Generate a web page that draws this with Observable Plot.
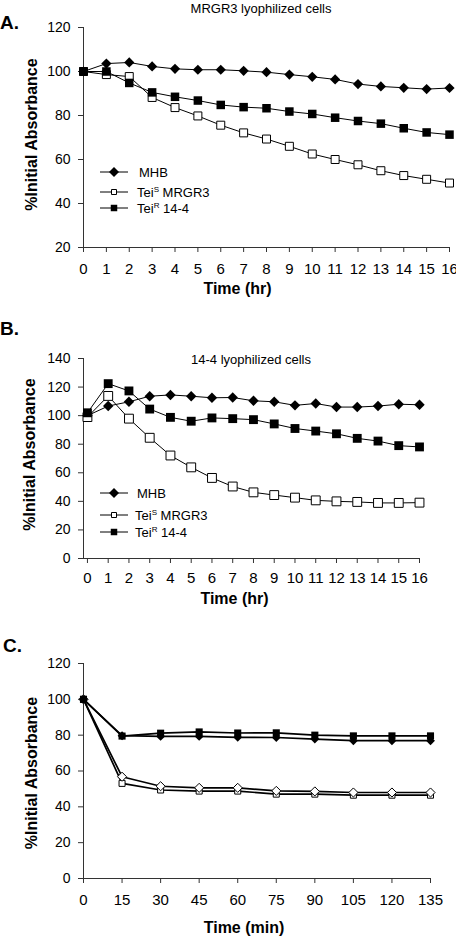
<!DOCTYPE html>
<html><head><meta charset="utf-8">
<script src="https://cdn.jsdelivr.net/npm/d3@7"></script>
<script src="https://cdn.jsdelivr.net/npm/@observablehq/plot@0.6"></script>
<style>
html,body{margin:0;padding:0;background:#fff;}
body{width:456px;height:940px;position:relative;overflow:hidden;font-family:"Liberation Sans",Arial,sans-serif;color:#000;}
.panel{position:absolute;left:0;}
.abs{position:absolute;white-space:nowrap;line-height:1;}
.letter{font-weight:bold;font-size:19px;transform:translateY(-50%);}
.title{font-size:13px;transform:translate(-50%,-50%);}
svg.legend{position:absolute;left:0;overflow:visible;}
</style></head><body>
<script>
// ---------- data ----------
const hours = [0,1,2,3,4,5,6,7,8,9,10,11,12,13,14,15,16];
const minutes = [0,15,30,45,60,75,90,105,120,135];

// Panel A: MRGR3 lyophilized cells
const mhbA  = [100,103.6,104.1,102.3,101.2,100.8,100.8,100.3,99.7,98.6,97.6,96.4,94.3,93.2,92.6,92.0,92.5];
const teiSA = [100,98.6,97.7,88.2,83.6,79.8,75.6,72.1,69.3,66.0,62.5,60.0,57.6,54.9,52.7,51.0,49.3];
const teiRA = [100,100,94.8,90.5,88.5,86.8,84.8,83.8,83.3,81.8,80.7,79.0,77.5,76.3,74.2,72.3,71.3];

// Panel B: 14-4 lyophilized cells
const mhbB  = [100,106.7,109.7,113.6,114.5,113.6,112.5,112.7,110.4,109.7,107.2,108.5,106.0,106.0,106.7,108.0,107.6];
const teiSB = [99,113.8,97.9,84.5,72.1,63.8,56.4,50.4,46.3,44.4,42.6,40.7,40.0,39.6,38.9,38.9,39.1];
const teiRB = [102,122.4,117.3,104.6,98.8,96.1,98.4,97.9,97.2,94.2,91.0,89.2,87.3,84.1,82.2,79.0,78.1];

// Panel C (minutes)
const filledSqC  = [100,79.5,81.1,81.8,81.2,81.3,80.0,79.6,79.6,79.6];
const filledDiaC = [100,79.7,79.3,79.3,78.8,78.7,77.8,76.9,76.9,76.9];
const openDiaC   = [100,56.8,51.5,50.6,50.6,48.9,48.6,48.0,48.0,48.0];
const openSqC    = [100,53.1,49.4,48.8,48.8,47.1,47.1,46.5,46.5,46.5];

const ticksA_y = [20,40,60,80,100,120];
const ticksB_y = [0,20,40,60,80,100,120,140];
const ticksC_y = [0,20,40,60,80,100,120];

const panelLetters = ["A.","B.","C."];
const titleA = "MRGR3 lyophilized cells";
const titleB = "14-4  lyophilized cells";
const xLabelHr = "Time (hr)";
const xLabelMin = "Time (min)";
const yLabel = "%Initial Absorbance";
const legendNames = [["MHB","",""],["Tei","S"," MRGR3"],["Tei","R"," 14-4"]];

// ---------- helpers ----------
const FONT = '"Liberation Sans", Arial, sans-serif';
const AX = "#333";
const zip = (xs, ys) => xs.map((x,i)=>({x, y: ys[i]}));

function panel(cfg){
  const marks = [
    Plot.ruleY([cfg.yDomain[0]], {stroke: AX, strokeWidth: 1}),
    Plot.ruleX([cfg.xDomain[0]], {stroke: AX, strokeWidth: 1}),
    Plot.axisX(cfg.xTicks, {tickSize: 5, tickPadding: cfg.xPad, fontSize: 15, stroke: AX, label: null}),
    Plot.axisY(cfg.yTicks, {tickSize: 5, tickPadding: 8, fontSize: 14, stroke: AX, label: null}),
  ];
  for (const s of cfg.series){
    marks.push(Plot.line(zip(cfg.x, s.y), {x:"x", y:"y", stroke:"#000", strokeWidth: cfg.lw}));
  }
  for (const s of cfg.series){
    marks.push(Plot.dot(zip(cfg.x, s.y), {x:"x", y:"y", symbol: s.symbol, r: s.r,
      fill: s.open ? "white" : "#000", stroke: s.open ? "#000" : "none", strokeWidth: 1}));
  }
  marks.push(Plot.text([cfg.xLabel], {frameAnchor:"bottom", textAnchor:"middle", dx: cfg.xlDx, dy: cfg.xlDy, fontWeight:"bold", fontSize:16}));
  marks.push(Plot.text([yLabel], {frameAnchor:"left", textAnchor:"middle", lineAnchor:"middle", rotate:-90, dx: cfg.ylDx, dy: cfg.ylDy, fontWeight:"bold", fontSize:16}));
  const p = Plot.plot({
    width: 456, height: cfg.height,
    marginTop: cfg.mt, marginBottom: cfg.mb, marginLeft: 83, marginRight: cfg.mr,
    x: {domain: cfg.xDomain},
    y: {domain: cfg.yDomain},
    style: {fontFamily: FONT, fontSize: "14px", color: "#000", background: "transparent", overflow: "visible"},
    marks
  });
  p.classList.add("panel");
  p.style.top = cfg.top + "px";
  document.body.appendChild(p);
}

function text(cls, str, left, top){
  const d = document.createElement("div");
  d.className = "abs " + cls;
  d.textContent = str;
  d.style.left = left + "px"; d.style.top = top + "px";
  document.body.appendChild(d);
}

function legend(rowsY, textX){
  const svg = d3.select("body").append("svg").attr("class","legend")
    .attr("width", 456).attr("height", 940).style("top","0px");
  const syms = [
    {type: d3.symbolDiamond2, size: 64, fill: "#000", stroke: "none"},
    {type: d3.symbolSquare, size: 25, fill: "white", stroke: "#000"},
    {type: d3.symbolSquare, size: 42, fill: "#000", stroke: "none"},
  ];
  legendNames.forEach((nm, i) => {
    const y = rowsY[i];
    svg.append("line").attr("x1", 100).attr("x2", 128).attr("y1", y).attr("y2", y).attr("stroke","#000");
    svg.append("path").attr("d", d3.symbol(syms[i].type, syms[i].size)()).attr("transform", `translate(114,${y})`)
      .attr("fill", syms[i].fill).attr("stroke", syms[i].stroke);
    const t = svg.append("text").attr("x", textX[i]).attr("y", y).attr("dy","0.36em")
      .attr("font-family", FONT).attr("font-size", 13);
    t.append("tspan").text(nm[0]);
    if (nm[1]) {
      t.append("tspan").attr("font-size", 8).attr("dy", "-5").text(nm[1]);
      t.append("tspan").attr("font-size", 13).attr("dy", "5").text(nm[2]);
    }
  });
}

// ---------- Panel A ----------
panel({
  top: 0, height: 300, mt: 27, mb: 53, mr: 7,
  x: hours, xDomain: [0,16], yDomain: [20,120], xTicks: hours, yTicks: ticksA_y, xPad: 11, lw: 1,
  series: [
    {y: mhbA, symbol: "diamond2", r: 4.6},
    {y: teiSA, symbol: "square", r: 4.5, open: true},
    {y: teiRA, symbol: "square", r: 4.8},
  ],
  xLabel: xLabelHr, xlDx: -29, xlDy: 46, ylDx: -52, ylDy: -3
});
text("letter", panelLetters[0], 0, 22);
text("title", titleA, 261, 8);
legend([172,192,208],[139,137,137]);

// ---------- Panel B ----------
panel({
  top: 300, height: 315, mt: 58, mb: 57, mr: 37,
  x: hours, xDomain: [-0.19,16], yDomain: [0,140], xTicks: hours, yTicks: ticksB_y, xPad: 9, lw: 1,
  series: [
    {y: mhbB, symbol: "diamond2", r: 4.7},
    {y: teiSB, symbol: "square", r: 5, open: true},
    {y: teiRB, symbol: "square", r: 5},
  ],
  xLabel: xLabelHr, xlDx: -17, xlDy: 45, ylDx: -54, ylDy: -4
});
text("letter", panelLetters[1], 0, 328);
text("title", titleB, 251, 359);
legend([493,515,532],[137,135,135]);

// ---------- Panel C ----------
panel({
  top: 615, height: 325, mt: 48, mb: 62, mr: 26,
  x: minutes, xDomain: [0,135], yDomain: [0,120], xTicks: minutes, yTicks: ticksC_y, xPad: 11, lw: 1.7,
  series: [
    {y: openSqC, symbol: "square", r: 3.4, open: true},
    {y: openDiaC, symbol: "diamond2", r: 4.1, open: true},
    {y: filledSqC, symbol: "square", r: 4},
    {y: filledDiaC, symbol: "diamond2", r: 4},
  ],
  xLabel: xLabelMin, xlDx: -13, xlDy: 54, ylDx: -52, ylDy: 2
});
text("letter", panelLetters[2], 3, 645);
</script>
</body></html>
